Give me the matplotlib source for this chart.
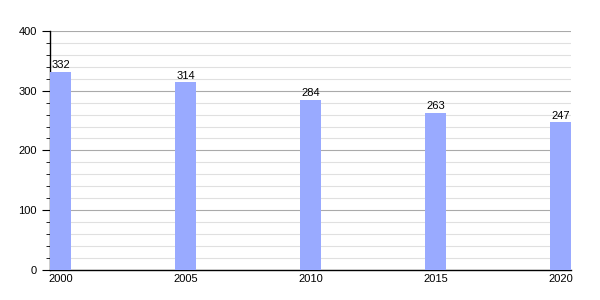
import matplotlib.pyplot as plt
from matplotlib.ticker import MultipleLocator

plt.rcParams["font.family"] = ["Liberation Sans", "DejaVu Sans"]

years = ["2000", "2005", "2010", "2015", "2020"]
values = [332, 314, 284, 263, 247]

fig = plt.figure(figsize=(6, 3), dpi=100)
ax = fig.add_axes([0.0833, 0.1, 0.8687, 0.797])

pos = list(range(len(years)))
width = 0.168
ax.bar(pos, values, width=width, align="edge", color="#99aaff", zorder=3)

for x, v in zip(pos, values):
    ax.text(x + width / 2, v + 3, str(v), ha="center", va="bottom", fontsize=8)

ax.set_xlim(0, 4 + width)
ax.set_ylim(0, 400)
ax.set_xticks([p + width / 2 for p in pos])
ax.set_xticklabels(years, fontsize=8)
ax.yaxis.set_major_locator(MultipleLocator(100))
ax.yaxis.set_minor_locator(MultipleLocator(20))
ax.tick_params(axis="y", which="major", labelsize=8, length=6, direction="out")
ax.tick_params(axis="y", which="minor", length=3, direction="out")
ax.tick_params(axis="x", length=0, pad=3)

ax.grid(axis="y", which="major", color="#aaaaaa", linewidth=0.8, zorder=0)
ax.grid(axis="y", which="minor", color="#e0e0e0", linewidth=0.8, zorder=0)

for side in ["top", "right"]:
    ax.spines[side].set_visible(False)
ax.spines["left"].set_linewidth(1)
ax.spines["bottom"].set_linewidth(1)

fig.savefig("out.png", dpi=100)
